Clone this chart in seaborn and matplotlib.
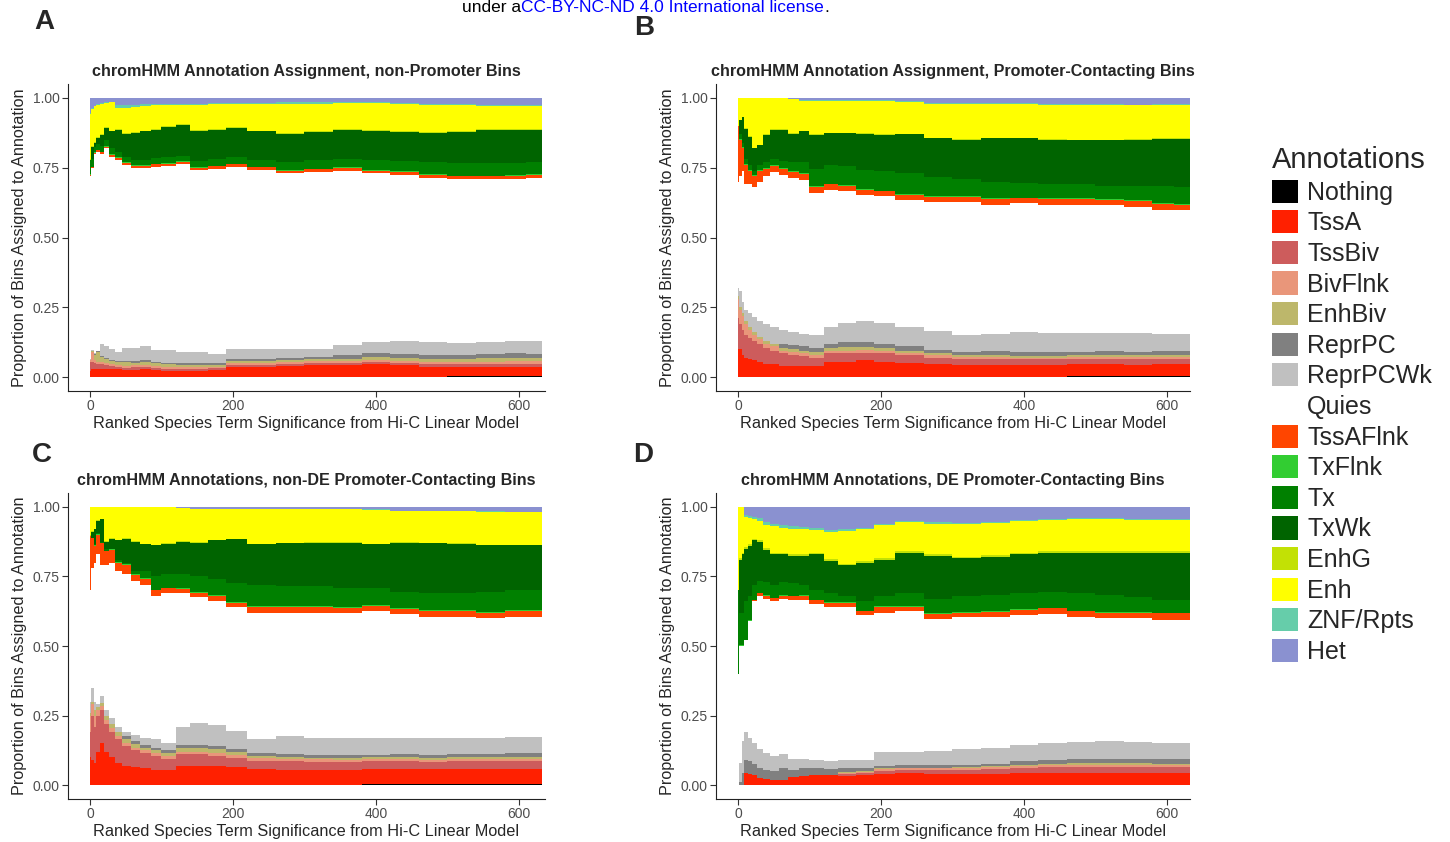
import numpy as np
import pandas as pd
import matplotlib
matplotlib.use("Agg")
import matplotlib.pyplot as plt
from matplotlib.patches import Patch
import seaborn as sns

# ---------------- data ----------------
ANNOTATIONS = ["Nothing", "TssA", "TssBiv", "BivFlnk", "EnhBiv", "ReprPC", "ReprPCWk",
               "Quies", "TssAFlnk", "TxFlnk", "Tx", "TxWk", "EnhG", "Enh", "ZNF/Rpts", "Het"]
COLORS = ["#000000", "#FF2000", "#CD5C5C", "#E9967A", "#BDB76B", "#808080", "#C0C0C0",
          "#FFFFFF", "#FF4500", "#32CD32", "#008000", "#006400", "#C2E105", "#FFFF00",
          "#66CDAA", "#8A91D0"]

# rank bins (ranked species-term significance)
RANK_EDGES = [0, 2, 5, 9, 14, 20, 27, 35, 45, 57, 70, 85, 100, 120, 140, 165, 190, 220,
              260, 300, 340, 380, 420, 460, 500, 540, 580, 610, 632]

PANEL_TITLES = ["chromHMM Annotation Assignment, non-Promoter Bins",
                "chromHMM Annotation Assignment, Promoter-Contacting Bins",
                "chromHMM Annotations, non-DE Promoter-Contacting Bins",
                "chromHMM Annotations, DE Promoter-Contacting Bins"]
PANEL_LETTERS = ["A", "B", "C", "D"]
X_TICKS = [0, 200, 400, 600]
Y_TICKS = [0.0, 0.25, 0.50, 0.75, 1.00]
Y_TICK_LABELS = ["0.00", "0.25", "0.50", "0.75", "1.00"]

# cumulative upper boundary of each annotation band (Het always reaches 1.0)
# ---- Panel A ----
A_NOTHING = [0, 0, 0, 0, 0, 0, 0, 0, 0, 0, 0, 0, 0, 0, 0, 0, 0, 0, 0, 0, 0, 0, 0, 0, 0.003, 0.003, 0.003, 0.003]
A_TSSA = [0.02, 0.03, 0.03, 0.03, 0.03, 0.03, 0.028, 0.028, 0.025, 0.027, 0.028, 0.025, 0.022, 0.022, 0.022, 0.024, 0.036, 0.036, 0.04, 0.042, 0.042, 0.045, 0.042, 0.037, 0.036, 0.036, 0.036, 0.036]
A_TSSBIV = [0.055, 0.055, 0.05, 0.045, 0.045, 0.042, 0.04, 0.036, 0.033, 0.035, 0.036, 0.033, 0.03, 0.03, 0.03, 0.031, 0.044, 0.044, 0.048, 0.05, 0.05, 0.054, 0.05, 0.047, 0.047, 0.047, 0.048, 0.048]
A_BIVFLNK = [0.06, 0.09, 0.06, 0.055, 0.055, 0.052, 0.048, 0.042, 0.04, 0.042, 0.042, 0.04, 0.036, 0.036, 0.035, 0.037, 0.05, 0.05, 0.054, 0.056, 0.056, 0.06, 0.057, 0.054, 0.054, 0.055, 0.056, 0.056]
A_ENHBIV = [0.06, 0.092, 0.08, 0.09, 0.072, 0.065, 0.058, 0.054, 0.055, 0.052, 0.055, 0.05, 0.046, 0.044, 0.044, 0.044, 0.058, 0.058, 0.062, 0.064, 0.066, 0.072, 0.068, 0.066, 0.066, 0.068, 0.068, 0.068]
A_REPRPC = [0.06, 0.094, 0.082, 0.092, 0.075, 0.068, 0.06, 0.056, 0.058, 0.058, 0.062, 0.055, 0.052, 0.05, 0.05, 0.05, 0.066, 0.066, 0.07, 0.072, 0.078, 0.086, 0.082, 0.08, 0.08, 0.084, 0.085, 0.084]
A_REPRPCWK = [0.065, 0.096, 0.085, 0.095, 0.12, 0.11, 0.10, 0.09, 0.104, 0.104, 0.111, 0.096, 0.096, 0.09, 0.09, 0.084, 0.102, 0.102, 0.10, 0.10, 0.114, 0.126, 0.128, 0.124, 0.123, 0.126, 0.13, 0.13]
A_QUIES = [0.722, 0.749, 0.80, 0.808, 0.80, 0.82, 0.79, 0.778, 0.76, 0.749, 0.749, 0.754, 0.757, 0.763, 0.742, 0.746, 0.754, 0.742, 0.73, 0.734, 0.739, 0.73, 0.725, 0.713, 0.709, 0.709, 0.71, 0.713]
A_TSSAFLNK = [0.724, 0.751, 0.803, 0.812, 0.805, 0.826, 0.797, 0.786, 0.768, 0.757, 0.757, 0.762, 0.765, 0.771, 0.75, 0.755, 0.763, 0.751, 0.74, 0.744, 0.749, 0.74, 0.735, 0.724, 0.72, 0.72, 0.721, 0.724]
A_TXFLNK = [0.726, 0.753, 0.805, 0.814, 0.807, 0.828, 0.799, 0.788, 0.77, 0.759, 0.759, 0.764, 0.767, 0.773, 0.752, 0.757, 0.765, 0.753, 0.742, 0.746, 0.751, 0.742, 0.737, 0.726, 0.722, 0.722, 0.723, 0.726]
A_TX = [0.778, 0.78, 0.825, 0.834, 0.827, 0.848, 0.819, 0.808, 0.79, 0.779, 0.779, 0.784, 0.787, 0.793, 0.775, 0.78, 0.79, 0.778, 0.77, 0.776, 0.781, 0.777, 0.775, 0.77, 0.767, 0.767, 0.768, 0.771]
A_TXWK = [0.778, 0.826, 0.838, 0.856, 0.868, 0.892, 0.88, 0.886, 0.871, 0.874, 0.88, 0.886, 0.895, 0.902, 0.883, 0.886, 0.892, 0.88, 0.872, 0.878, 0.884, 0.883, 0.878, 0.874, 0.878, 0.884, 0.886, 0.886]
A_ENHG = [0.78, 0.829, 0.841, 0.859, 0.871, 0.895, 0.883, 0.889, 0.874, 0.877, 0.883, 0.889, 0.898, 0.905, 0.886, 0.889, 0.895, 0.883, 0.875, 0.881, 0.887, 0.886, 0.881, 0.877, 0.881, 0.887, 0.889, 0.889]
A_ENH = [0.943, 0.962, 0.97, 0.976, 0.98, 0.982, 0.984, 0.965, 0.964, 0.969, 0.971, 0.974, 0.974, 0.975, 0.976, 0.977, 0.978, 0.979, 0.98, 0.98, 0.981, 0.982, 0.979, 0.976, 0.973, 0.971, 0.97, 0.97]
A_ZNF = [0.945, 0.964, 0.972, 0.978, 0.982, 0.984, 0.986, 0.975, 0.974, 0.976, 0.977, 0.978, 0.978, 0.979, 0.98, 0.981, 0.982, 0.983, 0.984, 0.984, 0.985, 0.986, 0.983, 0.98, 0.977, 0.975, 0.974, 0.974]

# ---- Panel B ----
B_NOTHING = [0, 0, 0, 0, 0, 0, 0, 0, 0, 0, 0, 0, 0, 0, 0, 0, 0, 0, 0, 0, 0, 0, 0, 0.003, 0.003, 0.003, 0.003, 0.003]
B_TSSA = [0.10, 0.10, 0.08, 0.07, 0.065, 0.06, 0.055, 0.045, 0.045, 0.04, 0.04, 0.04, 0.04, 0.055, 0.055, 0.06, 0.055, 0.05, 0.045, 0.042, 0.042, 0.042, 0.043, 0.045, 0.045, 0.044, 0.045, 0.045]
B_TSSBIV = [0.21, 0.19, 0.17, 0.15, 0.14, 0.13, 0.12, 0.105, 0.095, 0.085, 0.08, 0.075, 0.07, 0.085, 0.085, 0.087, 0.085, 0.078, 0.07, 0.065, 0.065, 0.063, 0.063, 0.065, 0.066, 0.065, 0.066, 0.066]
B_BIVFLNK = [0.28, 0.24, 0.22, 0.19, 0.17, 0.15, 0.135, 0.12, 0.11, 0.095, 0.09, 0.085, 0.08, 0.095, 0.095, 0.096, 0.093, 0.086, 0.078, 0.072, 0.072, 0.07, 0.07, 0.072, 0.072, 0.072, 0.072, 0.072]
B_ENHBIV = [0.29, 0.25, 0.23, 0.20, 0.18, 0.16, 0.145, 0.13, 0.12, 0.105, 0.10, 0.095, 0.09, 0.105, 0.108, 0.107, 0.103, 0.095, 0.085, 0.078, 0.078, 0.077, 0.076, 0.078, 0.079, 0.078, 0.078, 0.078]
B_REPRPC = [0.29, 0.25, 0.23, 0.20, 0.18, 0.16, 0.145, 0.13, 0.12, 0.12, 0.115, 0.11, 0.105, 0.12, 0.125, 0.125, 0.12, 0.11, 0.098, 0.09, 0.092, 0.09, 0.088, 0.09, 0.092, 0.09, 0.092, 0.092]
B_REPRPCWK = [0.32, 0.31, 0.27, 0.24, 0.23, 0.215, 0.20, 0.19, 0.18, 0.17, 0.16, 0.155, 0.15, 0.18, 0.195, 0.20, 0.195, 0.18, 0.165, 0.152, 0.155, 0.16, 0.158, 0.158, 0.158, 0.157, 0.155, 0.155]
B_QUIES = [0.70, 0.72, 0.74, 0.69, 0.69, 0.68, 0.70, 0.72, 0.734, 0.725, 0.713, 0.707, 0.659, 0.671, 0.667, 0.653, 0.647, 0.635, 0.626, 0.626, 0.618, 0.622, 0.618, 0.618, 0.616, 0.608, 0.60, 0.598]
B_TSSAFLNK = [0.90, 0.85, 0.82, 0.76, 0.74, 0.72, 0.74, 0.745, 0.755, 0.745, 0.735, 0.727, 0.68, 0.69, 0.685, 0.671, 0.665, 0.653, 0.645, 0.645, 0.638, 0.64, 0.637, 0.637, 0.636, 0.63, 0.62, 0.618]
B_TXFLNK = [0.90, 0.853, 0.823, 0.763, 0.743, 0.723, 0.743, 0.748, 0.758, 0.748, 0.738, 0.73, 0.683, 0.693, 0.688, 0.674, 0.668, 0.656, 0.648, 0.648, 0.641, 0.643, 0.64, 0.64, 0.639, 0.633, 0.623, 0.621]
B_TX = [0.90, 0.87, 0.84, 0.78, 0.76, 0.74, 0.76, 0.77, 0.78, 0.775, 0.77, 0.77, 0.745, 0.76, 0.755, 0.743, 0.74, 0.73, 0.715, 0.71, 0.70, 0.695, 0.69, 0.69, 0.685, 0.685, 0.685, 0.68]
B_TXWK = [0.90, 0.92, 0.93, 0.89, 0.86, 0.82, 0.83, 0.868, 0.886, 0.886, 0.871, 0.88, 0.868, 0.874, 0.874, 0.871, 0.868, 0.87, 0.855, 0.85, 0.855, 0.855, 0.85, 0.848, 0.848, 0.85, 0.853, 0.853]
B_ENHG = [0.90, 0.922, 0.932, 0.892, 0.862, 0.822, 0.832, 0.87, 0.888, 0.888, 0.873, 0.882, 0.87, 0.876, 0.876, 0.873, 0.87, 0.872, 0.857, 0.852, 0.857, 0.857, 0.852, 0.85, 0.85, 0.852, 0.855, 0.855]
B_ENH = [1.0, 1.0, 1.0, 1.0, 1.0, 1.0, 1.0, 1.0, 1.0, 1.0, 0.995, 0.99, 0.99, 0.99, 0.99, 0.99, 0.99, 0.985, 0.978, 0.98, 0.978, 0.978, 0.976, 0.974, 0.974, 0.973, 0.975, 0.976]
B_ZNF = [1.0, 1.0, 1.0, 1.0, 1.0, 1.0, 1.0, 1.0, 1.0, 1.0, 0.996, 0.992, 0.992, 0.992, 0.992, 0.992, 0.992, 0.988, 0.981, 0.983, 0.981, 0.981, 0.979, 0.977, 0.977, 0.976, 0.978, 0.979]

# ---- Panel C ----
C_NOTHING = [0, 0, 0, 0, 0, 0, 0, 0, 0, 0, 0, 0, 0, 0, 0, 0, 0, 0, 0, 0, 0, 0.003, 0.003, 0.003, 0.003, 0.003, 0.003, 0.003]
C_TSSA = [0.10, 0.09, 0.08, 0.12, 0.15, 0.12, 0.10, 0.08, 0.07, 0.065, 0.06, 0.055, 0.055, 0.07, 0.07, 0.07, 0.065, 0.058, 0.055, 0.055, 0.055, 0.057, 0.058, 0.058, 0.058, 0.058, 0.058, 0.058]
C_TSSBIV = [0.19, 0.25, 0.21, 0.25, 0.27, 0.22, 0.19, 0.165, 0.14, 0.125, 0.115, 0.105, 0.095, 0.11, 0.11, 0.105, 0.098, 0.088, 0.085, 0.083, 0.083, 0.085, 0.085, 0.084, 0.085, 0.086, 0.086, 0.086]
C_BIVFLNK = [0.25, 0.29, 0.25, 0.27, 0.285, 0.235, 0.205, 0.178, 0.152, 0.135, 0.125, 0.115, 0.105, 0.12, 0.12, 0.115, 0.108, 0.097, 0.094, 0.092, 0.091, 0.092, 0.092, 0.091, 0.092, 0.093, 0.093, 0.093]
C_ENHBIV = [0.26, 0.30, 0.27, 0.28, 0.295, 0.25, 0.22, 0.19, 0.165, 0.147, 0.135, 0.125, 0.115, 0.135, 0.135, 0.128, 0.118, 0.105, 0.10, 0.099, 0.098, 0.10, 0.10, 0.099, 0.10, 0.10, 0.10, 0.10]
C_REPRPC = [0.26, 0.30, 0.27, 0.28, 0.295, 0.25, 0.22, 0.19, 0.175, 0.157, 0.145, 0.135, 0.125, 0.145, 0.145, 0.14, 0.13, 0.115, 0.11, 0.108, 0.107, 0.109, 0.11, 0.108, 0.11, 0.112, 0.114, 0.114]
C_REPRPCWK = [0.30, 0.35, 0.30, 0.29, 0.32, 0.27, 0.24, 0.21, 0.19, 0.18, 0.17, 0.165, 0.15, 0.21, 0.225, 0.215, 0.195, 0.165, 0.175, 0.17, 0.17, 0.17, 0.17, 0.168, 0.168, 0.17, 0.172, 0.172]
C_QUIES = [0.70, 0.78, 0.80, 0.83, 0.79, 0.79, 0.80, 0.77, 0.76, 0.735, 0.72, 0.68, 0.69, 0.69, 0.675, 0.663, 0.64, 0.62, 0.62, 0.62, 0.62, 0.625, 0.615, 0.605, 0.605, 0.60, 0.606, 0.606]
C_TSSAFLNK = [0.896, 0.89, 0.86, 0.90, 0.87, 0.84, 0.845, 0.80, 0.79, 0.755, 0.74, 0.70, 0.707, 0.705, 0.69, 0.68, 0.655, 0.64, 0.64, 0.64, 0.637, 0.645, 0.633, 0.625, 0.625, 0.62, 0.627, 0.627]
C_TXFLNK = [0.896, 0.89, 0.862, 0.902, 0.872, 0.843, 0.848, 0.803, 0.793, 0.758, 0.743, 0.703, 0.71, 0.708, 0.693, 0.683, 0.658, 0.643, 0.643, 0.643, 0.64, 0.649, 0.637, 0.629, 0.629, 0.624, 0.631, 0.631]
C_TX = [0.896, 0.89, 0.865, 0.905, 0.875, 0.85, 0.85, 0.81, 0.80, 0.77, 0.77, 0.75, 0.76, 0.76, 0.75, 0.74, 0.725, 0.72, 0.715, 0.715, 0.71, 0.71, 0.695, 0.69, 0.69, 0.695, 0.70, 0.70]
C_TXWK = [0.896, 0.91, 0.92, 0.95, 0.955, 0.875, 0.885, 0.88, 0.885, 0.875, 0.865, 0.862, 0.867, 0.875, 0.872, 0.88, 0.884, 0.866, 0.87, 0.872, 0.872, 0.865, 0.872, 0.87, 0.868, 0.862, 0.862, 0.862]
C_ENHG = [0.898, 0.912, 0.922, 0.952, 0.957, 0.877, 0.887, 0.882, 0.887, 0.877, 0.867, 0.864, 0.869, 0.877, 0.874, 0.882, 0.886, 0.868, 0.872, 0.874, 0.874, 0.867, 0.874, 0.872, 0.87, 0.864, 0.864, 0.864]
C_ENH = [1.0, 1.0, 1.0, 1.0, 1.0, 1.0, 1.0, 1.0, 1.0, 1.0, 1.0, 1.0, 1.0, 0.995, 0.992, 0.992, 0.992, 0.992, 0.992, 0.992, 0.992, 0.99, 0.986, 0.985, 0.985, 0.983, 0.982, 0.982]
C_ZNF = [1.0, 1.0, 1.0, 1.0, 1.0, 1.0, 1.0, 1.0, 1.0, 1.0, 1.0, 1.0, 1.0, 0.996, 0.993, 0.993, 0.993, 0.993, 0.993, 0.993, 0.993, 0.991, 0.987, 0.986, 0.986, 0.984, 0.983, 0.983]

# ---- Panel D ----
D_NOTHING = [0, 0, 0, 0, 0, 0, 0, 0, 0, 0, 0, 0, 0, 0, 0, 0, 0, 0, 0, 0, 0, 0, 0, 0, 0, 0, 0, 0]
D_TSSA = [0, 0, 0, 0.045, 0.04, 0.035, 0.025, 0.022, 0.02, 0.02, 0.03, 0.033, 0.035, 0.035, 0.034, 0.035, 0.04, 0.042, 0.04, 0.04, 0.04, 0.045, 0.045, 0.045, 0.045, 0.045, 0.045, 0.045]
D_TSSBIV = [0, 0, 0, 0.045, 0.04, 0.035, 0.025, 0.022, 0.02, 0.02, 0.03, 0.033, 0.035, 0.036, 0.04, 0.042, 0.05, 0.055, 0.054, 0.056, 0.058, 0.062, 0.064, 0.066, 0.066, 0.065, 0.065, 0.065]
D_BIVFLNK = [0, 0, 0, 0.045, 0.04, 0.035, 0.025, 0.022, 0.02, 0.02, 0.03, 0.033, 0.035, 0.037, 0.045, 0.048, 0.057, 0.06, 0.06, 0.062, 0.064, 0.069, 0.072, 0.074, 0.074, 0.073, 0.072, 0.072]
D_ENHBIV = [0, 0, 0, 0.045, 0.04, 0.035, 0.025, 0.022, 0.02, 0.02, 0.03, 0.033, 0.035, 0.038, 0.047, 0.05, 0.06, 0.063, 0.063, 0.065, 0.068, 0.073, 0.076, 0.078, 0.079, 0.078, 0.077, 0.077]
D_REPRPC = [0, 0.01, 0.045, 0.09, 0.085, 0.075, 0.06, 0.055, 0.05, 0.06, 0.055, 0.06, 0.06, 0.058, 0.06, 0.062, 0.07, 0.072, 0.072, 0.074, 0.077, 0.085, 0.09, 0.092, 0.093, 0.093, 0.092, 0.092]
D_REPRPCWK = [0, 0.08, 0.16, 0.19, 0.17, 0.15, 0.13, 0.115, 0.105, 0.11, 0.095, 0.095, 0.09, 0.087, 0.09, 0.09, 0.12, 0.12, 0.121, 0.13, 0.135, 0.145, 0.15, 0.155, 0.158, 0.155, 0.152, 0.152]
D_QUIES = [0.40, 0.50, 0.50, 0.52, 0.59, 0.66, 0.68, 0.67, 0.66, 0.67, 0.665, 0.665, 0.65, 0.64, 0.64, 0.61, 0.62, 0.625, 0.597, 0.605, 0.605, 0.61, 0.615, 0.605, 0.60, 0.60, 0.595, 0.595]
D_TSSAFLNK = [0.40, 0.50, 0.50, 0.52, 0.59, 0.665, 0.69, 0.68, 0.672, 0.68, 0.678, 0.68, 0.665, 0.655, 0.655, 0.625, 0.64, 0.64, 0.615, 0.62, 0.623, 0.63, 0.635, 0.625, 0.62, 0.62, 0.618, 0.618]
D_TXFLNK = [0.40, 0.502, 0.502, 0.522, 0.592, 0.667, 0.692, 0.682, 0.674, 0.682, 0.68, 0.682, 0.667, 0.657, 0.657, 0.627, 0.642, 0.642, 0.617, 0.622, 0.625, 0.632, 0.637, 0.627, 0.622, 0.622, 0.62, 0.62]
D_TX = [0.70, 0.62, 0.62, 0.66, 0.68, 0.72, 0.735, 0.73, 0.72, 0.73, 0.725, 0.72, 0.70, 0.69, 0.68, 0.66, 0.68, 0.69, 0.67, 0.68, 0.685, 0.69, 0.695, 0.69, 0.685, 0.675, 0.665, 0.665]
D_TXWK = [0.70, 0.81, 0.83, 0.85, 0.86, 0.88, 0.875, 0.845, 0.83, 0.83, 0.825, 0.825, 0.83, 0.805, 0.79, 0.80, 0.81, 0.835, 0.825, 0.815, 0.82, 0.83, 0.835, 0.835, 0.835, 0.835, 0.835, 0.835]
D_ENHG = [0.70, 0.815, 0.836, 0.856, 0.866, 0.886, 0.881, 0.851, 0.836, 0.836, 0.831, 0.831, 0.836, 0.811, 0.796, 0.806, 0.816, 0.841, 0.831, 0.821, 0.826, 0.836, 0.841, 0.841, 0.841, 0.841, 0.841, 0.841]
D_ENH = [1.0, 1.0, 1.0, 0.965, 0.96, 0.955, 0.95, 0.935, 0.93, 0.925, 0.922, 0.92, 0.918, 0.91, 0.915, 0.92, 0.935, 0.945, 0.94, 0.938, 0.942, 0.948, 0.952, 0.955, 0.955, 0.953, 0.952, 0.952]
D_ZNF = [1.0, 1.0, 1.0, 0.97, 0.967, 0.965, 0.96, 0.945, 0.94, 0.934, 0.93, 0.927, 0.924, 0.916, 0.92, 0.925, 0.94, 0.949, 0.944, 0.942, 0.946, 0.952, 0.956, 0.959, 0.959, 0.957, 0.956, 0.956]

PANEL_TOPS = [
    [A_NOTHING, A_TSSA, A_TSSBIV, A_BIVFLNK, A_ENHBIV, A_REPRPC, A_REPRPCWK, A_QUIES,
     A_TSSAFLNK, A_TXFLNK, A_TX, A_TXWK, A_ENHG, A_ENH, A_ZNF],
    [B_NOTHING, B_TSSA, B_TSSBIV, B_BIVFLNK, B_ENHBIV, B_REPRPC, B_REPRPCWK, B_QUIES,
     B_TSSAFLNK, B_TXFLNK, B_TX, B_TXWK, B_ENHG, B_ENH, B_ZNF],
    [C_NOTHING, C_TSSA, C_TSSBIV, C_BIVFLNK, C_ENHBIV, C_REPRPC, C_REPRPCWK, C_QUIES,
     C_TSSAFLNK, C_TXFLNK, C_TX, C_TXWK, C_ENHG, C_ENH, C_ZNF],
    [D_NOTHING, D_TSSA, D_TSSBIV, D_BIVFLNK, D_ENHBIV, D_REPRPC, D_REPRPCWK, D_QUIES,
     D_TSSAFLNK, D_TXFLNK, D_TX, D_TXWK, D_ENHG, D_ENH, D_ZNF],
]


def panel_frame(tops):
    edges = np.array(RANK_EDGES, dtype=float)
    centers = (edges[:-1] + edges[1:]) / 2
    cum = np.vstack([np.zeros(len(centers))] + [np.array(t, float) for t in tops]
                    + [np.ones(len(centers))])
    props = np.clip(np.diff(cum, axis=0), 0, None)
    rows = []
    for k, name in enumerate(ANNOTATIONS):
        for i, c in enumerate(centers):
            rows.append((c, name, props[k, i]))
    return pd.DataFrame(rows, columns=["rank", "annotation", "prop"])


# ---------------- style ----------------
sns.set_theme(style="ticks")
plt.rcParams["font.family"] = ["Liberation Sans", "DejaVu Sans"]
plt.rcParams["axes.linewidth"] = 0.8
plt.rcParams["axes.edgecolor"] = "#222222"
plt.rcParams["xtick.color"] = "#333333"
plt.rcParams["ytick.color"] = "#333333"

fig = plt.figure(figsize=(14.5, 8.42), dpi=100)
W, H = 1450.0, 842.0

# axes boxes in pixel coords: (left, top, right, bottom)
BOXES = [(68, 84, 545, 391), (716, 84, 1190, 391), (68, 493, 545, 799), (716, 493, 1190, 799)]
XLIMS = [(-30.8, 636.5), (-30.8, 632.5), (-30.8, 636.5), (-30.8, 632.5)]
LETTER_POS = [(44, 22), (644, 28), (42, 455), (643, 455)]

palette = dict(zip(ANNOTATIONS, COLORS))

for p in range(4):
    l, t, r, b = BOXES[p]
    ax = fig.add_axes([l / W, 1 - b / H, (r - l) / W, (b - t) / H])
    df = panel_frame(PANEL_TOPS[p])
    sns.histplot(data=df, x="rank", weights="prop", hue="annotation",
                 hue_order=ANNOTATIONS[::-1], palette=palette, multiple="stack",
                 bins=RANK_EDGES, element="bars", linewidth=0, alpha=1,
                 legend=False, ax=ax)
    ax.set_xlim(*XLIMS[p])
    ax.set_ylim(-0.05, 1.05)
    ax.set_xticks(X_TICKS)
    ax.set_xticklabels([str(v) for v in X_TICKS], fontsize=10, color="#4D4D4D")
    ax.set_yticks(Y_TICKS)
    ax.set_yticklabels(Y_TICK_LABELS, fontsize=10, color="#4D4D4D")
    ax.tick_params(length=4, width=0.8, pad=2)
    ax.set_xlabel("Ranked Species Term Significance from Hi-C Linear Model",
                  fontsize=11.7, labelpad=2)
    ax.set_ylabel("Proportion of Bins Assigned to Annotation", fontsize=11.7, labelpad=4)
    ax.set_title(PANEL_TITLES[p], fontsize=11.6, fontweight="bold", pad=6)
    sns.despine(ax=ax)
    lx, ly = LETTER_POS[p]
    fig.text(lx / W, 1 - ly / H, PANEL_LETTERS[p], fontsize=20, fontweight="bold",
             ha="center", va="center")

# legend
handles = [Patch(facecolor=c, edgecolor="none", label=a) for a, c in zip(ANNOTATIONS, COLORS)]
fig.legend(handles=handles, loc="upper left", bbox_to_anchor=(1272 / W, 1 - 146 / H),
           frameon=False, fontsize=18, title="Annotations", title_fontsize=21,
           handlelength=1.05, handleheight=1.05, handletextpad=0.35, labelspacing=0.22,
           borderpad=0, borderaxespad=0, alignment="left")

# header text from the source page
fig.canvas.draw()
renderer = fig.canvas.get_renderer()
y_base = 1 - 12.5 / H
t1 = fig.text(462 / W, y_base, "under a", fontsize=12.5, color="black", va="baseline")
bb = t1.get_window_extent(renderer)
t2 = fig.text(bb.x1 / W, y_base, "CC-BY-NC-ND 4.0 International license", fontsize=12.5,
              color="#0000FF", va="baseline")
bb2 = t2.get_window_extent(renderer)
fig.text(bb2.x1 / W, y_base, ".", fontsize=12.5, color="black", va="baseline")

fig.savefig("out.png", dpi=100)
